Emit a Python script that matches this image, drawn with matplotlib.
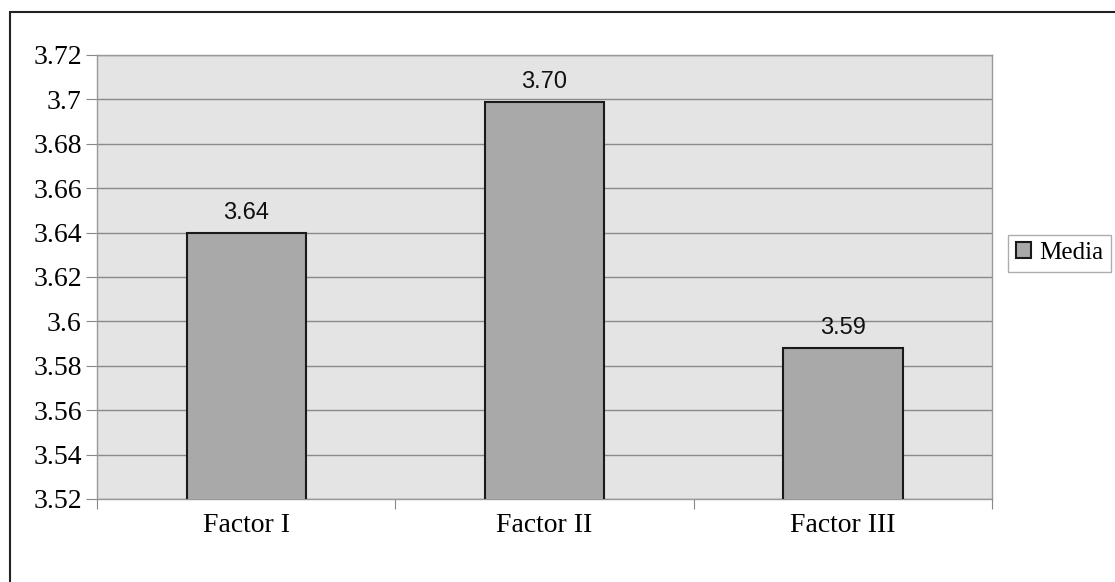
import numpy as np
import matplotlib.pyplot as plt
from matplotlib.patches import Rectangle

categorias = ["Factor I", "Factor II", "Factor III"]
medias = [3.640, 3.699, 3.588]
etiquetas = ["3.64", "3.70", "3.59"]
yticks = [3.52, 3.54, 3.56, 3.58, 3.60, 3.62, 3.64, 3.66, 3.68, 3.70, 3.72]
ytick_labels = ["3.52", "3.54", "3.56", "3.58", "3.6", "3.62", "3.64", "3.66", "3.68", "3.7", "3.72"]

fig = plt.figure(figsize=(11.15, 5.82), dpi=100)
ax = fig.add_axes([97 / 1115, 1 - 499 / 582, 895 / 1115, 444 / 582])

# marco exterior del grafico
fig.patches.append(Rectangle((10 / 1115, -0.1), 1.2, 1 - 12 / 582 + 0.1,
                             transform=fig.transFigure, fill=False,
                             edgecolor="#222222", linewidth=1.5))

x = np.arange(len(categorias))
ax.set_facecolor("#e4e4e4")
barras = ax.bar(x, medias, width=0.4, color="#a9a9a9", edgecolor="#1a1a1a",
                linewidth=1.5, label="Media", zorder=3)

for xi, v, t in zip(x, medias, etiquetas):
    ax.text(xi, v + 0.004, t, ha="center", va="bottom", fontsize=17,
            family="Liberation Sans", color="#111111")

ax.set_ylim(3.52, 3.72)
ax.set_xlim(-0.5, 2.5)
ax.set_yticks(yticks)
ax.set_yticklabels(ytick_labels)
for lab in ax.get_yticklabels():
    lab.set_fontfamily("Liberation Serif")
    lab.set_fontsize(20)
ax.yaxis.grid(True, color="#8a8a8a", linewidth=1, zorder=0)
ax.set_axisbelow(True)

ax.set_xticks([-0.5, 0.5, 1.5, 2.5], minor=False)
ax.set_xticklabels([])
ax.set_xticks(x, minor=True)
ax.set_xticklabels(categorias, minor=True)
for lab in ax.get_xticklabels(minor=True):
    lab.set_fontfamily("Liberation Serif")
    lab.set_fontsize(20)
ax.tick_params(axis="x", which="minor", length=0, pad=10)
ax.tick_params(axis="x", which="major", length=7, color="#888888", direction="out")
ax.tick_params(axis="y", length=8, color="#888888", pad=3)

for s in ax.spines.values():
    s.set_color("#999999")
    s.set_linewidth(1)

fig.legend(handles=[barras], labels=["Media"], loc="center left",
           bbox_to_anchor=(1008 / 1115, 1 - 253 / 582), frameon=True,
           fancybox=False, edgecolor="#999999", prop={"family": "Liberation Serif", "size": 18},
           handlelength=0.6, handleheight=0.6, handletextpad=0.35, borderpad=0.3,
           borderaxespad=0)

fig.savefig("out.png", dpi=100, facecolor="white")
